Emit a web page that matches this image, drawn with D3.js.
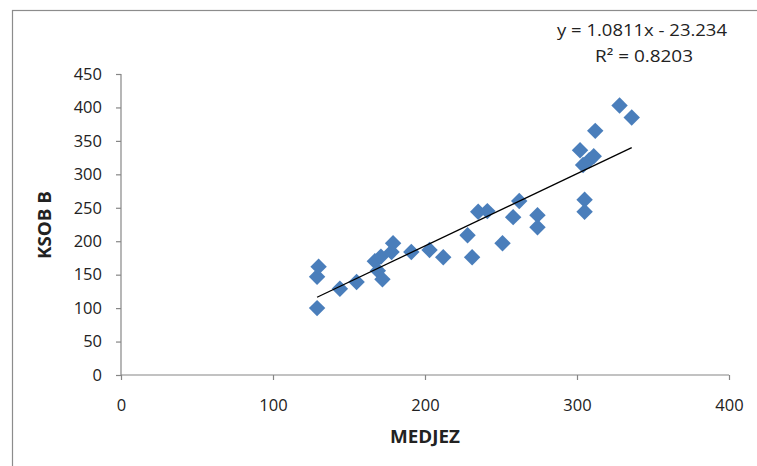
<!DOCTYPE html>
<html>
<head>
<meta charset="utf-8">
<script src="https://cdn.jsdelivr.net/npm/d3@7"></script>
<style>
  html, body { margin: 0; padding: 0; background: #fff; }
  svg { display: block; }
  text { font-family: "Open Sans", "Liberation Sans", sans-serif; fill: #222; }
</style>
</head>
<body>
<svg id="chart" width="757" height="466"></svg>
<script>
const medjez = [129, 129, 130, 144, 155, 167, 171, 169, 172, 178, 179, 191, 203, 212, 228, 231, 235, 241, 251, 258, 262, 274, 274, 302, 304, 308, 311, 305, 305, 312, 328, 336];
const ksobB  = [100, 147, 162, 129, 139, 170, 177, 156, 143, 184, 197, 184, 187, 176, 209, 176, 244, 245, 197, 236, 260, 239, 221, 336, 314, 321, 327, 262, 244, 365, 403, 385];
const xTicks = [0, 100, 200, 300, 400];
const yTicks = [0, 50, 100, 150, 200, 250, 300, 350, 400, 450];
const slope = 1.0811, intercept = -23.234, r2 = "0.8203";

const svg = d3.select("#chart");
const gray = "#868686";

// outer chart frame
svg.append("rect").attr("x", 12.5).attr("y", 10.5).attr("width", 800).attr("height", 500)
  .attr("fill", "none").attr("stroke", "#8c8c8c").attr("stroke-width", 1.2);

const x = d3.scaleLinear().domain([0, 400]).range([121, 729]);
const y = d3.scaleLinear().domain([0, 450]).range([375, 74]);

const xAxis = svg.append("g").attr("transform", `translate(0,${y(0)})`)
  .call(d3.axisBottom(x).tickValues(xTicks).tickSize(5).tickPadding(19));
const yAxis = svg.append("g").attr("transform", `translate(${x(0)},0)`)
  .call(d3.axisLeft(y).tickValues(yTicks).tickSize(5).tickPadding(14));
[xAxis, yAxis].forEach(a => {
  a.selectAll("path, line").attr("stroke", gray).attr("stroke-width", 1.2);
  a.selectAll("text").style("font-size", "16.5px").attr("fill", "#222");
});
xAxis.select(".domain").attr("d", `M${x(0)},0H${x(400)}`);
yAxis.select(".domain").attr("d", `M0,${y(0)}V${y(450)}`);

// points
const sym = d3.symbol().type(d3.symbolSquare).size(135);
svg.append("g").selectAll("path").data(medjez.map((d, i) => [d, ksobB[i]])).join("path")
  .attr("d", sym)
  .attr("transform", d => `translate(${x(d[0])},${y(d[1])}) rotate(45)`)
  .attr("fill", "#4a7ebb");

// trend line
const xmin = d3.min(medjez), xmax = d3.max(medjez);
svg.append("line")
  .attr("x1", x(xmin)).attr("y1", y(slope * xmin + intercept))
  .attr("x2", x(xmax)).attr("y2", y(slope * xmax + intercept))
  .attr("stroke", "#000").attr("stroke-width", 1.3);

// equation
svg.append("text").attr("x", 642).attr("y", 36).attr("text-anchor", "middle")
  .style("font-size", "17px").attr("textLength", 170).attr("lengthAdjust", "spacingAndGlyphs")
  .text(`y = ${slope}x - ${Math.abs(intercept)}`);
svg.append("text").attr("x", 644).attr("y", 62).attr("text-anchor", "middle")
  .style("font-size", "17px").attr("textLength", 98).attr("lengthAdjust", "spacingAndGlyphs")
  .text(`R² = ${r2}`);

// axis titles
svg.append("text").attr("x", 425).attr("y", 443).attr("text-anchor", "middle")
  .style("font-size", "17px").style("font-weight", "bold")
  .attr("textLength", 70).attr("lengthAdjust", "spacingAndGlyphs").text("MEDJEZ");
svg.append("text").attr("transform", "translate(51,225) rotate(-90)").attr("text-anchor", "middle")
  .style("font-size", "17px").style("font-weight", "bold")
  .attr("textLength", 68).attr("lengthAdjust", "spacingAndGlyphs").text("KSOB B");
</script>
</body>
</html>
